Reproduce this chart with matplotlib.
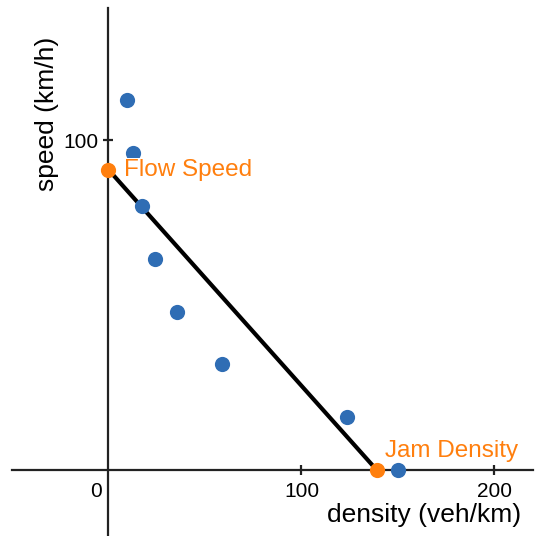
import matplotlib
matplotlib.use("Agg")
import matplotlib.pyplot as plt
import matplotlib.transforms as mtransforms

plt.rcParams['font.family'] = ['Liberation Sans', 'DejaVu Sans']

# Data
density = [9.4, 12.8, 17.2, 24.1, 35.3, 58.7, 123.6, 150.2]
speed = [112, 96, 80, 64, 48, 32, 16, 0]
flow_speed = 91
jam_density = 139
x_ticks = [0, 100, 200]
y_ticks = [100]

fig = plt.figure(figsize=(5.35, 5.36), dpi=100)
ax = fig.add_axes([12/535, 0.0, (533-12)/535, (536-8)/536])
ax.set_xlim(-50, 220)
ax.set_ylim(-20, 140)

blue = '#2f6db4'
orange = '#ff7f0e'

ax.plot([0, jam_density], [flow_speed, 0], color='black', lw=3, zorder=2)
ax.scatter(density, speed, s=120, color=blue, zorder=3, linewidths=0)
ax.scatter([0, jam_density], [flow_speed, 0], s=120, color=orange, zorder=4, linewidths=0)

ax.annotate('Flow Speed', xy=(0, flow_speed), xytext=(11, 0), textcoords='offset points',
            ha='left', va='center', fontsize=17.5, color=orange, zorder=5,
            bbox=dict(facecolor='white', edgecolor='none', pad=0.5))
ax.annotate('Jam Density', xy=(jam_density, 0), xytext=(6, 14), textcoords='offset points',
            ha='left', va='center', fontsize=17.5, color=orange, zorder=5,
            bbox=dict(facecolor='white', edgecolor='none', pad=0.5))

for s in ['top', 'right']:
    ax.spines[s].set_visible(False)
for s in ['left', 'bottom']:
    ax.spines[s].set_position(('data', 0))
    ax.spines[s].set_linewidth(1.6)
    ax.spines[s].set_color('#222222')
    ax.spines[s].set_zorder(1)

ax.set_xticks(x_ticks)
ax.set_yticks(y_ticks)
ax.tick_params(direction='inout', length=7, width=1.6, labelsize=15, color='#222222')
ax.tick_params(axis='x', pad=5)
# shift "0" label to the left of the y-axis
offset = mtransforms.ScaledTranslation(-12/100, 0, fig.dpi_scale_trans)
t0 = ax.xaxis.get_major_ticks()[0]
t0.label1.set_transform(t0.label1.get_transform() + offset)
t0.tick1line.set_visible(False)

ax.set_xlabel('density (veh/km)', fontsize=19)
ax.xaxis.set_label_coords((424-12)/521, (536-515)/528)
ax.set_ylabel('speed (km/h)', fontsize=19)
ax.yaxis.set_label_coords((47-12)/521, (536-106-8)/528)
ax.xaxis.label.set_va('center')
ax.yaxis.label.set_va('center')

fig.savefig('out.png', dpi=100)
